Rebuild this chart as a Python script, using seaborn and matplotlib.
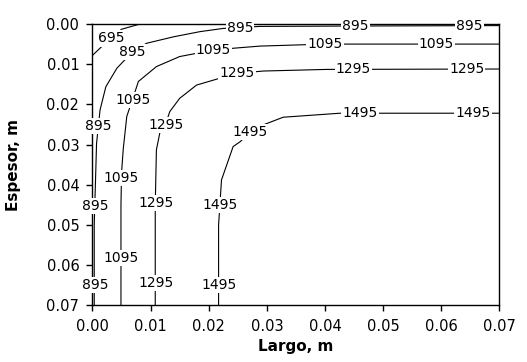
import numpy as np
import pandas as pd
import matplotlib
matplotlib.use("Agg")
import matplotlib.pyplot as plt
import seaborn as sns

# contour levels and their traced paths (Largo x, Espesor y, in m)
levels = [695, 895, 1095, 1295, 1495]

x_695 = [0.0000, 0.0019, 0.0033, 0.0050, 0.0082]
y_695 = [0.0078, 0.0052, 0.0035, 0.0013, 0.0000]

x_895 = [0.0003, 0.0003, 0.0005, 0.0007, 0.0013, 0.0023, 0.0042, 0.0069, 0.0093,
         0.0139, 0.0185, 0.0225, 0.0288, 0.0450, 0.0700]
y_895 = [0.0700, 0.0500, 0.0400, 0.0297, 0.0214, 0.0156, 0.0110, 0.0069, 0.0048,
         0.0032, 0.0019, 0.0011, 0.0006, 0.0005, 0.0004]

x_1095 = [0.0049, 0.0049, 0.0050, 0.0053, 0.0059, 0.0069, 0.0079, 0.0110, 0.0150,
          0.0208, 0.0245, 0.0288, 0.0400, 0.0700]
y_1095 = [0.0700, 0.0450, 0.0370, 0.0310, 0.0230, 0.0187, 0.0143, 0.0106, 0.0081,
          0.0065, 0.0060, 0.0055, 0.0050, 0.0050]

x_1295 = [0.0108, 0.0108, 0.0110, 0.0116, 0.0126, 0.0133, 0.0150, 0.0179, 0.0219,
          0.0249, 0.0294, 0.0403, 0.0700]
y_1295 = [0.0700, 0.0450, 0.0313, 0.0270, 0.0248, 0.0218, 0.0185, 0.0152, 0.0135,
          0.0123, 0.0117, 0.0113, 0.0112]

x_1495 = [0.0217, 0.0217, 0.0222, 0.0242, 0.0254, 0.0271, 0.0294, 0.0328, 0.0426, 0.0700]
y_1495 = [0.0700, 0.0500, 0.0388, 0.0305, 0.0293, 0.0270, 0.0251, 0.0232, 0.0222, 0.0222]

# label positions along each contour
lab_695 = [(0.0033, 0.0036)]
lab_895 = [(0.0069, 0.0069), (0.0254, 0.0010), (0.0452, 0.0005), (0.0649, 0.0005),
           (0.0010, 0.0254), (0.0005, 0.0453), (0.0005, 0.0650)]
lab_1095 = [(0.0070, 0.0190), (0.0208, 0.0065), (0.0400, 0.0050), (0.0592, 0.0050),
            (0.0050, 0.0384), (0.0050, 0.0583)]
lab_1295 = [(0.0126, 0.0251), (0.0249, 0.0123), (0.0449, 0.0113), (0.0644, 0.0112),
            (0.0110, 0.0446), (0.0110, 0.0644)]
lab_1495 = [(0.0271, 0.0268), (0.0460, 0.0222), (0.0655, 0.0222),
            (0.0220, 0.0450), (0.0218, 0.0649)]

ticks = [0.00, 0.01, 0.02, 0.03, 0.04, 0.05, 0.06, 0.07]

paths = {695: (x_695, y_695), 895: (x_895, y_895), 1095: (x_1095, y_1095),
         1295: (x_1295, y_1295), 1495: (x_1495, y_1495)}
labels = {695: lab_695, 895: lab_895, 1095: lab_1095, 1295: lab_1295, 1495: lab_1495}

rows = []
for lv in levels:
    for xx, yy in zip(*paths[lv]):
        rows.append({"x": xx, "y": yy, "level": lv})
df = pd.DataFrame(rows)

sns.set_style("ticks")
plt.rcParams["font.family"] = ["DejaVu Sans"]
plt.rcParams["text.color"] = "black"
plt.rcParams["axes.labelcolor"] = "black"
plt.rcParams["xtick.color"] = "black"
plt.rcParams["ytick.color"] = "black"

fig = plt.figure(figsize=(5.27, 3.62), dpi=100)
ax = fig.add_axes([0.1755, 0.1566, 0.7719, 0.7771])

sns.lineplot(data=df, x="x", y="y", units="level", estimator=None, sort=False,
             color="black", linewidth=0.8, ax=ax, legend=False)

for lv in levels:
    for lx, ly in labels[lv]:
        ax.text(lx, ly, str(lv), ha="center", va="center", fontsize=10,
                color="black",
                bbox=dict(facecolor="white", edgecolor="none", pad=0.8),
                zorder=5, clip_on=False)

ax.set_xlim(0, 0.07)
ax.set_ylim(0.07, 0)
ax.set_xticks(ticks)
ax.set_yticks(ticks)
ax.set_xticklabels([f"{t:.2f}" for t in ticks], fontsize=10.5)
ax.set_yticklabels([f"{t:.2f}" for t in ticks], fontsize=10.5)
ax.tick_params(axis="both", direction="out", length=4.5, width=1, color="black", pad=5)
ax.tick_params(top=False, right=False)

for s in ax.spines.values():
    s.set_visible(True)
    s.set_color("black")
    s.set_linewidth(1)

ax.set_xlabel("Largo, m", fontsize=11, fontweight="bold", labelpad=4)
ax.set_ylabel("Espesor, m", fontsize=11, fontweight="bold", labelpad=18)

fig.savefig("out.png", dpi=100)
